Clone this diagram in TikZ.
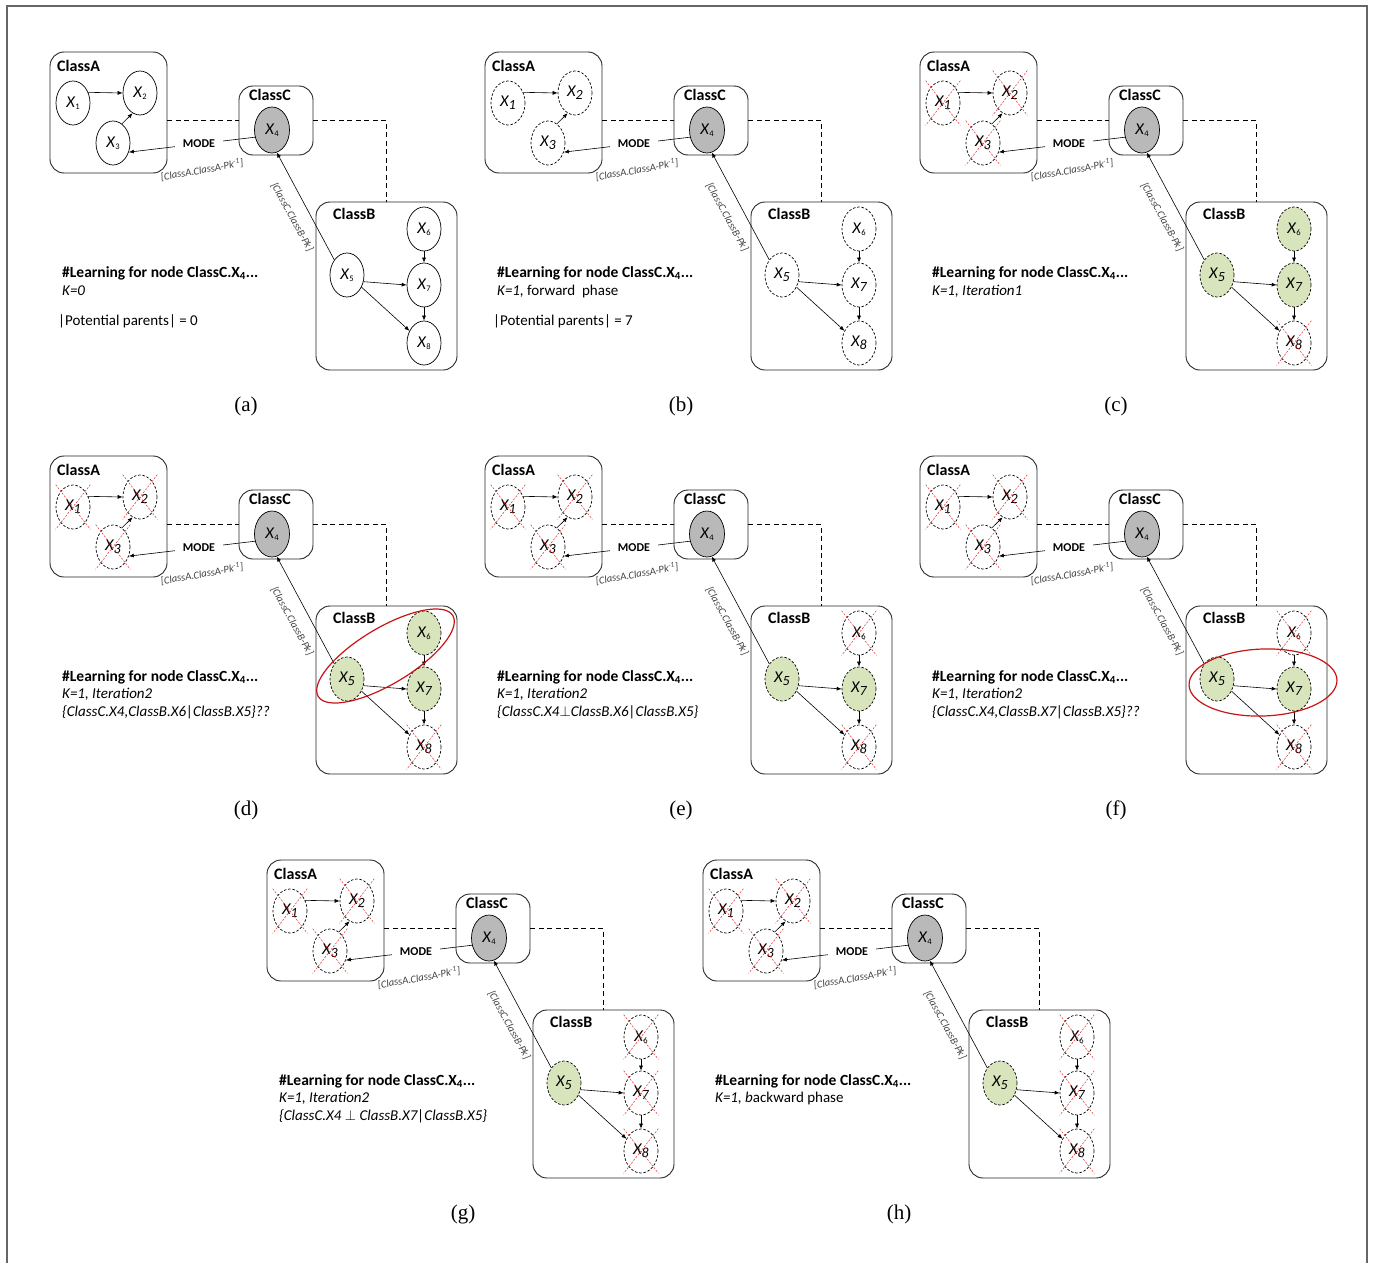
\documentclass[tikz,border=0pt]{standalone}
\usepackage{fontspec}
\setmainfont{Carlito}
\newfontfamily\capfont{Liberation Serif}
\usetikzlibrary{arrows.meta}
\usetikzlibrary{calc}
\usetikzlibrary{shapes.geometric}
\tikzset{>={Latex[length=5pt,width=4pt]}}
\definecolor{nodegray}{RGB}{185,185,185}
\definecolor{keptgreen}{RGB}{216,228,188}
\definecolor{crossred}{RGB}{228,40,40}
\definecolor{ringred}{RGB}{200,20,20}
\tikzstyle{classbox}=[draw=black!85,line width=0.9pt,rounded corners=14pt,inner sep=0pt]
\tikzstyle{classname}=[font=\fontsize{16}{16}\selectfont\bfseries,anchor=west,inner sep=0pt]
\tikzstyle{varnode}=[ellipse,draw,line width=0.7pt,minimum width=34pt,minimum height=44pt,inner sep=0pt,font=\fontsize{16.5}{16.5}\selectfont]
\tikzstyle{varsolid}=[solid,fill=white]
\tikzstyle{vardash}=[dash pattern=on 2.5pt off 1.8pt,fill=white]
\tikzstyle{varkept}=[fill=keptgreen]
\tikzstyle{vartarget}=[varnode,solid,fill=nodegray,minimum width=35pt,minimum height=46pt]
\tikzstyle{crossline}=[draw=crossred,line width=0.5pt,dash pattern=on 2pt off 1.5pt]
\tikzstyle{link}=[->,line width=0.6pt]
\tikzstyle{classlink}=[line width=1.1pt,dash pattern=on 5pt off 3.5pt]
\tikzstyle{ring}=[draw=ringred,line width=1.2pt,ellipse,inner sep=0pt]
\tikzstyle{modelabel}=[fill=white,font=\fontsize{12}{12}\selectfont\bfseries,inner xsep=8pt,inner ysep=1pt]
\tikzstyle{pklabel}=[font=\fontsize{10.5}{10.5}\selectfont\itshape,text=black!75,inner sep=0pt]
\tikzstyle{infohead}=[font=\fontsize{15.5}{15.5}\selectfont\bfseries,anchor=base west,inner sep=0pt]
\tikzstyle{infoline}=[font=\fontsize{15}{15}\selectfont,anchor=base west,inner sep=0pt]
\tikzstyle{caption}=[font=\capfont\fontsize{21}{21}\selectfont,inner sep=0pt]
\tikzset{st/.style={},st1/.style={},st2/.style={},st3/.style={},st5/.style={},st6/.style={},st7/.style={},st8/.style={}}

\newcommand{\xs}[1]{\textit{X}\raisebox{-2.5pt}{\fontsize{8.5}{8.5}\selectfont #1}}
\newcommand{\xb}[1]{\textit{X\raisebox{-3pt}{\fontsize{14}{14}\selectfont #1}}}

% one panel: #1 = name prefix and caption letter, #2 = label macro
\newcommand{\drawpanel}[2]{%
  \node[classbox,minimum width=117pt,minimum height=121pt] (#1A) at (108.5,112.5) {};
  \node[classbox,minimum width=74pt,minimum height=69pt] (#1C) at (276,120.5) {};
  \node[classbox,minimum width=141pt,minimum height=168pt] (#1B) at (386.5,286) {};
  \node[classname] (#1An) at (57,66) {ClassA};
  \node[classname] (#1Cn) at (249,95) {ClassC};
  \node[classname] (#1Bn) at (333,214) {ClassB};
  \draw[classlink] (#1A.east |- #1C.west) -- (#1C.west);
  \draw[classlink] (#1C.east) -| (#1B.north);
  \node[varnode,st,st1] (#11) at (73,103) {#2{1}};
  \node[varnode,st,st2] (#12) at (140,93) {#2{2}};
  \node[varnode,st,st3] (#13) at (113,143) {#2{3}};
  \node[vartarget] (#14) at (272,130) {\xs{4}};
  \node[varnode,st,st5] (#15) at (347,275) {#2{5}};
  \node[varnode,st,st6] (#16) at (424,229) {\xs{6}};
  \node[varnode,st,st7] (#17) at (424,285) {#2{7}};
  \node[varnode,st,st8] (#18) at (424,343) {#2{8}};
  \draw[link] (#11.35) -- (#12.west);
  \draw[link] (#13.65) -- (#12.-110);
  \draw[link] (#15.-22) -- (#17.west);
  \draw[link] (#15.-40) -- (#18.140);
  \draw[link] (#16) -- (#17);
  \draw[link] (#17) -- (#18);
  \draw[link] (#14.203) -- node[modelabel,pos=0.444] (#1M) {MODE} (#13.-30);
  \draw[link] (#15.130) -- (#14.-78);
  \node[pklabel,rotate=10] (#1Pa) at (202,170) {[ClassA.ClassA-Pk\textsuperscript{-1}]};
  \node[pklabel,rotate=-61] (#1Pb) at (292,217) {[ClassC.ClassB-Pk]};
  \node[infohead] (#1H) at (62,277) {\#Learning for node ClassC.X\textsubscript{4}...};
  \node[caption] (#1cap) at (246,406) {(#1)};
}
% red crosses over dropped nodes
\newcommand{\crossnodes}[2]{%
  \foreach \n in {#2} {
    \draw[crossline] (#1\n.north -| #1\n.west) -- (#1\n.south -| #1\n.east)
                     (#1\n.north -| #1\n.east) -- (#1\n.south -| #1\n.west);
  }
}

\begin{document}
\begin{tikzpicture}[x=1pt,y=-1pt]
  \useasboundingbox (0,0) rectangle (1375,1263);
  \draw[line width=1.5pt,draw=black!60] (7,1263) -- (7,6) -- (1367,6) -- (1367,1263);

  % (a)
  \begin{scope}[st/.style=varsolid]
    \drawpanel{a}{\xs}
    \node[infoline] (aK) at (62,295) {\textit{K=0}};
    \node[infoline] (aP) at (58,325) {|Potential parents| = 0};
  \end{scope}

  % (b)
  \begin{scope}[shift={(435,0)},st/.style=vardash]
    \drawpanel{b}{\xb}
    \node[infoline] (bK) at (62,295) {\textit{K=1,} forward\ \ phase};
    \node[infoline] (bP) at (58,325) {|Potential parents| = 7};
  \end{scope}

  % (c)
  \begin{scope}[shift={(870,0)},st/.style=vardash,st5/.style=varkept,st6/.style=varkept,st7/.style=varkept]
    \drawpanel{c}{\xb}
    \crossnodes{c}{1,2,3,8}
    \node[infoline] (cK) at (62,295) {\textit{K=1, Iteration1}};
  \end{scope}

  % (d)
  \begin{scope}[shift={(0,404)},st/.style=vardash,st5/.style=varkept,st6/.style=varkept,st7/.style=varkept]
    \drawpanel{d}{\xb}
    \crossnodes{d}{1,2,3,8}
    \node[ring,rotate=31,minimum width=157pt,minimum height=56pt] (dring) at ($(d5)!0.5!(d6)$) {};
    \node[infoline] (dK) at (62,294) {\textit{K=1, Iteration2}};
    \node[infoline] (dQ) at (62,312) {\textit{\{ClassC.X4,ClassB.X6|ClassB.X5\}??}};
  \end{scope}

  % (e)
  \begin{scope}[shift={(435,404)},st/.style=vardash,st5/.style=varkept,st7/.style=varkept]
    \drawpanel{e}{\xb}
    \crossnodes{e}{1,2,3,6,8}
    \node[infoline] (eK) at (62,294) {\textit{K=1, Iteration2}};
    \node[infoline] (eQ) at (62,312) {\textit{\{ClassC.X4$\perp$ClassB.X6|ClassB.X5\}}};
  \end{scope}

  % (f)
  \begin{scope}[shift={(870,404)},st/.style=vardash,st5/.style=varkept,st7/.style=varkept]
    \drawpanel{f}{\xb}
    \crossnodes{f}{1,2,3,6,8}
    \node[ring,rotate=2,minimum width=148pt,minimum height=67pt] (fring) at (393,278.5) {};
    \node[infoline] (fK) at (62,294) {\textit{K=1, Iteration2}};
    \node[infoline] (fQ) at (62,312) {\textit{\{ClassC.X4,ClassB.X7|ClassB.X5\}??}};
  \end{scope}

  % (g)
  \begin{scope}[shift={(217,808)},st/.style=vardash,st5/.style=varkept]
    \drawpanel{g}{\xb}
    \crossnodes{g}{1,2,3,6,7,8}
    \node[infoline] (gK) at (62,294) {\textit{K=1, Iteration2}};
    \node[infoline] (gQ) at (62,312) {\textit{\{ClassC.X4 $\perp$ ClassB.X7|ClassB.X5\}}};
  \end{scope}

  % (h)
  \begin{scope}[shift={(653,808)},st/.style=vardash,st5/.style=varkept]
    \drawpanel{h}{\xb}
    \crossnodes{h}{1,2,3,6,7,8}
    \node[infoline] (hK) at (62,294) {\textit{K=1, b}ackward phase};
  \end{scope}
\end{tikzpicture}
\end{document}
